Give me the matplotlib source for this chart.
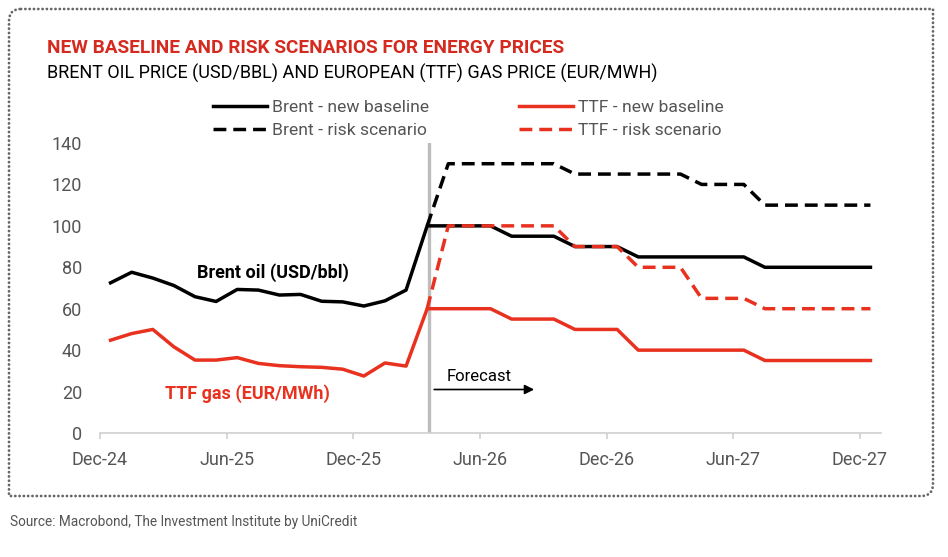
import matplotlib.pyplot as plt
import matplotlib.path as mpath
import matplotlib.patches as mpatches
import numpy as np

plt.rcParams["font.family"] = ["Roboto", "DejaVu Sans"]

# month index 0 = Dec-24 ... 36 = Dec-27
tick_pos = [0, 6, 12, 18, 24, 30, 36]
tick_labels = ["Dec-24", "Jun-25", "Dec-25", "Jun-26", "Dec-26", "Jun-27", "Dec-27"]

# history: Dec-24 .. Mar-26 (idx 0..15)
brent_hist = [72.5, 77.6, 74.8, 71.2, 65.8, 63.5, 69.3, 69.0, 66.6, 66.9,
              63.6, 63.3, 61.3, 63.8, 69.0, 100]
ttf_hist = [44.8, 48.0, 50.0, 41.6, 35.2, 35.2, 36.4, 33.6, 32.5, 32.0,
            31.7, 30.8, 27.5, 33.8, 32.3, 60]

# forecasts: Apr-26 .. Dec-27 (idx 16..36)
brent_base = [100, 100, 100, 95, 95, 95, 90, 90, 90, 85, 85, 85, 85, 85, 85,
              80, 80, 80, 80, 80, 80]
brent_risk = [130, 130, 130, 130, 130, 130, 125, 125, 125, 125, 125, 125,
              120, 120, 120, 110, 110, 110, 110, 110, 110]
ttf_base = [60, 60, 60, 55, 55, 55, 50, 50, 50, 40, 40, 40, 40, 40, 40,
            35, 35, 35, 35, 35, 35]
ttf_risk = [100, 100, 100, 100, 100, 100, 90, 90, 90, 80, 80, 80, 65, 65, 65,
            60, 60, 60, 60, 60, 60]

RED = "#e8321f"
GREY_TXT = "#555555"

x_hist = np.arange(len(brent_hist)) + 0.5
x_fc = np.arange(len(brent_hist) - 1, len(brent_hist) + len(brent_base)) + 0.5

fig = plt.figure(figsize=(9.48, 5.57), dpi=100)
ax = fig.add_axes([100 / 948, 1 - 433 / 557, 781 / 948, 290 / 557])

ax.axvline(15.6, color="#bdbdbd", lw=2.4, zorder=1)

lw = 2.5
dash = (3.7, 2.0)
b_solid, = ax.plot(np.concatenate([x_hist, x_fc[1:]]), brent_hist + brent_base,
                   color="black", lw=lw, solid_joinstyle="round", zorder=3)
b_dash, = ax.plot(x_fc, [brent_hist[-1]] + brent_risk, color="black", lw=lw,
                  linestyle=(0, dash), zorder=3)
t_solid, = ax.plot(np.concatenate([x_hist, x_fc[1:]]), ttf_hist + ttf_base,
                   color=RED, lw=lw, solid_joinstyle="round", zorder=4)
t_dash, = ax.plot(x_fc, [ttf_hist[-1]] + ttf_risk, color=RED, lw=lw,
                  linestyle=(0, dash), zorder=5)

ax.set_xlim(0, 37)
ax.set_ylim(0, 140)
ax.set_xticks(tick_pos)
ax.set_xticklabels(tick_labels)
ax.set_yticks(range(0, 141, 20))
for s in ["top", "right", "left"]:
    ax.spines[s].set_visible(False)
ax.spines["bottom"].set_color("#d0d0d0")
ax.spines["bottom"].set_linewidth(1.2)
ax.tick_params(axis="x", colors="#d0d0d0", length=4, width=1.2, labelsize=13,
               labelcolor=GREY_TXT, pad=9)
ax.tick_params(axis="y", length=0, labelsize=13, labelcolor=GREY_TXT, pad=13)

ax.text(8.2, 77.5, "Brent oil (USD/bbl)", fontsize=13, fontweight="bold",
        color="black", ha="center", va="center")
ax.text(7.0, 19, "TTF gas (EUR/MWh)", fontsize=13, fontweight="bold",
        color=RED, ha="center", va="center")
ax.text(16.4, 27.5, "Forecast", fontsize=12, color="black", ha="left", va="center")
ax.annotate("", xy=(20.7, 21), xytext=(15.7, 21),
            arrowprops=dict(arrowstyle="-|>", color="black", lw=1.2,
                            mutation_scale=14))

leg_kw = dict(loc="upper left", frameon=False, fontsize=12.6, handlelength=3.1,
              handletextpad=0.25, labelspacing=0.42, borderpad=0,
              borderaxespad=0, labelcolor=GREY_TXT)
fig.legend([b_solid, b_dash], ["Brent - new baseline", "Brent - risk scenario"],
           bbox_to_anchor=(213 / 948, 1 - 100 / 557), **leg_kw)
fig.legend([t_solid, t_dash], ["TTF - new baseline", "TTF - risk scenario"],
           bbox_to_anchor=(519 / 948, 1 - 100 / 557), **leg_kw)

fig.text(47 / 948, 1 - 48 / 557, "NEW BASELINE AND RISK SCENARIOS FOR ENERGY PRICES",
         fontsize=13.7, fontweight="bold", color="#d42a20", va="center")
fig.text(47 / 948, 1 - 73 / 557,
         "BRENT OIL PRICE (USD/BBL) AND EUROPEAN (TTF) GAS PRICE (EUR/MWH)",
         fontsize=13, color="black", va="center")
fig.text(10 / 948, 1 - 522 / 557,
         "Source: Macrobond, The Investment Institute by UniCredit",
         fontsize=9.85, color=GREY_TXT, va="center")

# dotted frame, rounded top-left and bottom-right corners
ov = fig.add_axes([0, 0, 1, 1], zorder=-1)
ov.set_xlim(0, 948)
ov.set_ylim(557, 0)
ov.axis("off")
L, R, T, B, r = 9, 933, 9, 496, 12
verts = [(L + r, T), (R, T), (R, B - r), (R, B), (R - r, B), (L, B), (L, T + r),
         (L, T), (L + r, T)]
codes = [mpath.Path.MOVETO, mpath.Path.LINETO, mpath.Path.LINETO, mpath.Path.CURVE3,
         mpath.Path.CURVE3, mpath.Path.LINETO, mpath.Path.LINETO, mpath.Path.CURVE3,
         mpath.Path.CURVE3]
ov.add_patch(mpatches.PathPatch(mpath.Path(verts, codes), fill=False,
                                edgecolor="#666666", lw=2.0,
                                linestyle=(0, (0.05, 1.5)), capstyle="round"))

fig.savefig("out.png", dpi=100)
